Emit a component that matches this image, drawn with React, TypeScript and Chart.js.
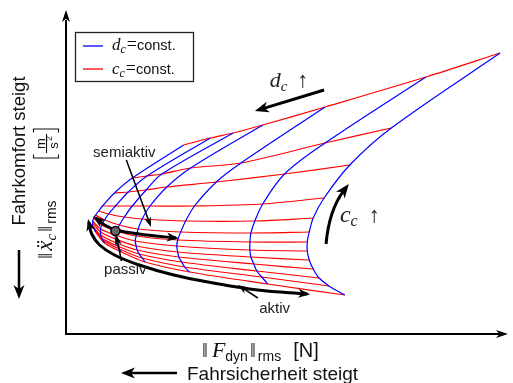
import React, { useEffect, useRef } from "react";
import { Chart, registerables } from "chart.js";

Chart.register(...registerables);

const W = 513;
const H = 383;

// Axis ranges (arbitrary units, no ticks in the original)
const xMax = 446;
const yMax = 322;

// Grid of operating points: rows = c_c levels (largest c_c on top),
// columns = d_c levels (largest d_c on the left, smallest on the right)
const gridX: number[][] = [
  [119, 146, 169, 199, 262, 364, 439],
  [67, 82, 97, 126, 177, 262, 329],
  [49, 63, 81, 102, 152, 221, 287],
  [37, 50, 67, 85, 130, 199, 261],
  [33, 43, 59, 77, 121, 191, 250],
  [30, 39, 54, 73, 116, 187, 246],
  [28, 36, 51, 71, 113, 186, 244],
  [27, 35, 50, 70, 112, 186, 244],
  [27, 35, 50, 71, 113, 187, 246],
  [27, 35, 51, 72, 114, 190, 250],
  [28, 36, 52, 74, 117, 193, 256],
  [29, 37, 54, 77, 120, 198, 266],
  [30, 39, 56, 80, 125, 204, 282],
];
const gridY: number[][] = [
  [189, 196, 201, 209, 227, 257, 281],
  [156, 158, 160, 166, 171, 191, 206],
  [141, 142, 144, 147, 152, 160, 169],
  [128, 128, 128, 128, 128, 130, 136],
  [123, 120, 117, 115, 113, 113, 116],
  [119, 114, 109, 105, 102, 101, 102],
  [116, 109, 103, 98, 94, 92, 92],
  [113, 105, 99, 93, 88, 84, 83],
  [111, 102, 95, 88, 82, 77, 74],
  [108, 99, 91, 84, 77, 70, 65],
  [106, 96, 88, 80, 72, 63, 56],
  [104, 94, 85, 76, 67, 57, 48],
  [102, 91, 82, 72, 62, 50, 39],
];

// Active suspension front ("aktiv")
const aktivX = [23, 26, 34, 49, 74, 109, 149, 194, 244];
const aktivY = [112, 100, 89, 79, 69, 59, 51, 44, 40];
// Semi-active range ("semiaktiv")
const semiX = [30, 39, 51, 74, 111];
const semiY = [116, 109, 104, 100, 96];
// Passive reference point
const passivPt = { x: 50, y: 103 };

// Annotation anchors (data units)
const semiLabel = { x: 59, y: 177 };
const semiArrow = [61, 174, 86, 107];
const passivLabel = { x: 60, y: 60 };
const passivArrow = [56, 73, 51, 99];
const aktivLabel = { x: 211, y: 21 };
const aktivArrow = [194, 36, 174, 49];
const dcLabel = { x: 206, y: 247 };
const dcArrow = [261, 244, 191, 223];
const ccLabel = { x: 277, y: 112 };
const ccArrow = [263, 90, 266, 124, 286, 150];

const RED = "#ff0000";
const BLUE = "#0000ff";
const SANS = '"Liberation Sans", Arial, Helvetica, sans-serif';
const SERIF = '"Liberation Serif", "DejaVu Serif", "Times New Roman", serif';
const fnt = (size: number, fam: string, style = "") => `${style} ${size}px ${fam}`.trim();

type Run = { t: string; f: string; dy?: number; dx?: number };

function drawRuns(ctx: CanvasRenderingContext2D, x: number, y: number, runs: Run[]) {
  let cx = x;
  for (const r of runs) {
    ctx.font = r.f;
    cx += r.dx || 0;
    ctx.fillText(r.t, cx, y + (r.dy || 0));
    cx += ctx.measureText(r.t).width;
  }
  return cx;
}

function arrowHead(ctx: CanvasRenderingContext2D, x0: number, y0: number, x1: number, y1: number, len: number, wid: number) {
  const a = Math.atan2(y1 - y0, x1 - x0);
  ctx.save();
  ctx.translate(x1, y1);
  ctx.rotate(a);
  ctx.beginPath();
  ctx.moveTo(0, 0);
  ctx.lineTo(-len, wid / 2);
  ctx.lineTo(-len * 0.72, 0);
  ctx.lineTo(-len, -wid / 2);
  ctx.closePath();
  ctx.fill();
  ctx.restore();
}

function arrowLine(ctx: CanvasRenderingContext2D, x0: number, y0: number, x1: number, y1: number, lw: number, len: number, wid: number) {
  const a = Math.atan2(y1 - y0, x1 - x0);
  const ex = x1 - Math.cos(a) * len * 0.6;
  const ey = y1 - Math.sin(a) * len * 0.6;
  ctx.lineWidth = lw;
  ctx.beginPath();
  ctx.moveTo(x0, y0);
  ctx.lineTo(ex, ey);
  ctx.stroke();
  arrowHead(ctx, x0, y0, x1, y1, len, wid);
}

const annotPlugin = {
  id: "annot",
  afterDraw(chart: any) {
    const { ctx, chartArea: ca, scales } = chart;
    const X = (v: number) => scales.x.getPixelForValue(v);
    const Y = (v: number) => scales.y.getPixelForValue(v);
    ctx.save();
    ctx.strokeStyle = "#000";
    ctx.fillStyle = "#000";
    ctx.lineCap = "butt";

    // arrowheads on the thick data lines
    const endHeads = (xs: number[], ys: number[]) => {
      const n = xs.length;
      const ext = (xa: number, ya: number, xb: number, yb: number) => {
        const px0 = X(xa), py0 = Y(ya), px1 = X(xb), py1 = Y(yb);
        const a = Math.atan2(py1 - py0, px1 - px0);
        arrowHead(ctx, px0, py0, px1 + Math.cos(a) * 3, py1 + Math.sin(a) * 3, 12, 9);
      };
      ext(xs[1], ys[1], xs[0], ys[0]);
      ext(xs[n - 2], ys[n - 2], xs[n - 1], ys[n - 1]);
    };
    endHeads(aktivX, aktivY);
    endHeads(semiX, semiY);

    // axes
    ctx.lineWidth = 2;
    ctx.beginPath();
    ctx.moveTo(ca.left, ca.bottom + 1);
    ctx.lineTo(ca.left, ca.top + 8);
    ctx.stroke();
    arrowHead(ctx, ca.left, ca.bottom, ca.left, ca.top - 2, 12, 8);
    ctx.beginPath();
    ctx.moveTo(ca.left - 1, ca.bottom);
    ctx.lineTo(ca.right - 8, ca.bottom);
    ctx.stroke();
    arrowHead(ctx, ca.left, ca.bottom, ca.right + 1, ca.bottom, 12, 8);

    // annotation arrows
    ctx.fillStyle = "#000";
    arrowLine(ctx, X(semiArrow[0]), Y(semiArrow[1]), X(semiArrow[2]), Y(semiArrow[3]), 1.5, 10, 7);
    arrowLine(ctx, X(passivArrow[0]), Y(passivArrow[1]), X(passivArrow[2]), Y(passivArrow[3]), 1.5, 10, 7);
    arrowLine(ctx, X(aktivArrow[0]), Y(aktivArrow[1]), X(aktivArrow[2]), Y(aktivArrow[3]), 1.5, 10, 7);
    arrowLine(ctx, X(dcArrow[0]), Y(dcArrow[1]), X(dcArrow[2]), Y(dcArrow[3]), 3, 14, 11);
    // curved c_c arrow
    {
      const x0 = X(ccArrow[0]), y0 = Y(ccArrow[1]);
      const cx = X(ccArrow[2]), cy = Y(ccArrow[3]);
      const x1 = X(ccArrow[4]), y1 = Y(ccArrow[5]);
      const a = Math.atan2(y1 - cy, x1 - cx);
      ctx.lineWidth = 3;
      ctx.beginPath();
      ctx.moveTo(x0, y0);
      ctx.quadraticCurveTo(cx, cy, x1 - Math.cos(a) * 8, y1 - Math.sin(a) * 8);
      ctx.stroke();
      arrowHead(ctx, cx, cy, x1, y1, 14, 11);
    }

    // annotation text
    ctx.fillStyle = "#222";
    ctx.textBaseline = "alphabetic";
    ctx.textAlign = "center";
    ctx.font = fnt(15, SANS);
    ctx.fillText("semiaktiv", X(semiLabel.x), Y(semiLabel.y));
    ctx.fillText("passiv", X(passivLabel.x), Y(passivLabel.y));
    ctx.fillText("aktiv", X(aktivLabel.x), Y(aktivLabel.y));
    ctx.textAlign = "left";
    drawRuns(ctx, X(dcLabel.x), Y(dcLabel.y), [
      { t: "d", f: fnt(22, SERIF, "italic") },
      { t: "c", f: fnt(15, SERIF, "italic"), dy: 4 },
      { t: "↑", f: fnt(22, SERIF), dx: 10 },
    ]);
    drawRuns(ctx, X(ccLabel.x), Y(ccLabel.y), [
      { t: "c", f: fnt(24, SERIF, "italic") },
      { t: "c", f: fnt(16, SERIF, "italic"), dy: 4 },
      { t: "↑", f: fnt(22, SERIF), dx: 11 },
    ]);

    // legend
    ctx.fillStyle = "#fff";
    ctx.fillRect(75, 32, 118, 49);
    ctx.strokeStyle = "#222";
    ctx.lineWidth = 1.3;
    ctx.strokeRect(75.5, 32.5, 118, 49);
    ctx.lineWidth = 1.3;
    ctx.strokeStyle = BLUE;
    ctx.beginPath();
    ctx.moveTo(83, 46);
    ctx.lineTo(103, 46);
    ctx.stroke();
    ctx.strokeStyle = RED;
    ctx.beginPath();
    ctx.moveTo(83, 69);
    ctx.lineTo(103, 69);
    ctx.stroke();
    ctx.fillStyle = "#111";
    drawRuns(ctx, 112, 50, [
      { t: "d", f: fnt(17, SERIF, "italic") },
      { t: "c", f: fnt(12, SERIF, "italic"), dy: 3 },
      { t: "=", f: fnt(18, SERIF), dx: 1 },
      { t: "const.", f: fnt(14.5, SANS) },
    ]);
    drawRuns(ctx, 112, 74, [
      { t: "c", f: fnt(17, SERIF, "italic") },
      { t: "c", f: fnt(12, SERIF, "italic"), dy: 3 },
      { t: "=", f: fnt(18, SERIF), dx: 1 },
      { t: "const.", f: fnt(14.5, SANS) },
    ]);

    // x axis titles
    ctx.fillStyle = "#111";
    ctx.strokeStyle = "#000";
    drawRuns(ctx, 202, 357, [
      { t: "‖", f: fnt(21, SERIF) },
      { t: "F", f: fnt(22, SERIF, "italic"), dx: 4 },
      { t: "dyn", f: fnt(14, SANS), dy: 4 },
      { t: "‖", f: fnt(21, SERIF), dx: 2 },
      { t: "rms", f: fnt(14, SANS), dy: 4, dx: 2 },
      { t: "[N]", f: fnt(20, SANS), dx: 12 },
    ]);
    ctx.font = fnt(19, SANS);
    ctx.fillText("Fahrsicherheit steigt", 187, 380);
    ctx.fillStyle = "#000";
    arrowLine(ctx, 177, 373, 121, 373, 2.5, 14, 11);

    // y axis titles (rotated)
    ctx.save();
    ctx.translate(25, 151);
    ctx.rotate(-Math.PI / 2);
    ctx.textAlign = "center";
    ctx.fillStyle = "#111";
    ctx.font = fnt(18.5, SANS);
    ctx.fillText("Fahrkomfort steigt", 0, 0);
    ctx.restore();
    ctx.fillStyle = "#000";
    arrowLine(ctx, 19, 250, 19, 299, 2.5, 14, 11);

    ctx.save();
    ctx.translate(52, 259);
    ctx.rotate(-Math.PI / 2);
    ctx.textAlign = "left";
    ctx.fillStyle = "#111";
    drawRuns(ctx, 0, 0, [
      { t: "‖", f: fnt(22, SERIF) },
      { t: "ẍ", f: fnt(23, SERIF, "italic"), dx: 2 },
      { t: "c", f: fnt(15, SERIF, "italic"), dy: 4 },
      { t: "‖", f: fnt(22, SERIF), dx: 2 },
      { t: "rms", f: fnt(14, SANS), dy: 4, dx: 2 },
    ]);
    const L = 101;
    ctx.strokeStyle = "#111";
    ctx.lineWidth = 1.1;
    ctx.beginPath();
    ctx.moveTo(L + 3.5, -18.5);
    ctx.lineTo(L, -18.5);
    ctx.lineTo(L, 6.5);
    ctx.lineTo(L + 3.5, 6.5);
    ctx.moveTo(L + 25.5, -18.5);
    ctx.lineTo(L + 29, -18.5);
    ctx.lineTo(L + 29, 6.5);
    ctx.lineTo(L + 25.5, 6.5);
    ctx.moveTo(L + 5, -5.5);
    ctx.lineTo(L + 24, -5.5);
    ctx.stroke();
    ctx.textAlign = "center";
    ctx.font = fnt(13, SANS);
    ctx.fillText("m", L + 14.5, -7.5);
    ctx.fillText("s", L + 12.5, 6);
    ctx.font = fnt(9, SANS);
    ctx.fillText("2", L + 19.5, 0);
    ctx.restore();

    ctx.restore();
  },
};

function buildDatasets() {
  const ds: any[] = [];
  const rows = gridX.length;
  const cols = gridX[0].length;
  for (let j = 0; j < rows; j++) {
    const data = [];
    for (let i = 0; i < cols; i++) data.push({ x: gridX[j][i], y: gridY[j][i] });
    ds.push({
      label: "c_c=const.",
      data,
      showLine: true,
      borderColor: RED,
      borderWidth: 1.2,
      pointRadius: 0,
      tension: 0.3,
      fill: false,
      order: 6,
    });
  }
  for (let i = 0; i < cols; i++) {
    const data = [];
    for (let j = 0; j < rows; j++) data.push({ x: gridX[j][i], y: gridY[j][i] });
    ds.push({
      label: "d_c=const.",
      data,
      showLine: true,
      borderColor: BLUE,
      borderWidth: 1.2,
      pointRadius: 0,
      tension: 0.35,
      fill: false,
      order: 5,
    });
  }
  ds.push({
    label: "aktiv",
    data: aktivX.map((x, k) => ({ x, y: aktivY[k] })),
    showLine: true,
    borderColor: "#000",
    borderWidth: 3,
    pointRadius: 0,
    tension: 0.4,
    fill: false,
    order: 3,
  });
  ds.push({
    label: "semiaktiv",
    data: semiX.map((x, k) => ({ x, y: semiY[k] })),
    showLine: true,
    borderColor: "#000",
    borderWidth: 3,
    pointRadius: 0,
    tension: 0.4,
    fill: false,
    order: 2,
  });
  ds.push({
    label: "passiv",
    data: [passivPt],
    showLine: false,
    pointRadius: 4.5,
    pointBackgroundColor: "#666",
    pointBorderColor: "#000",
    pointBorderWidth: 1.5,
    order: 1,
  });
  return ds;
}

export default function App() {
  const ref = useRef<HTMLCanvasElement>(null);
  useEffect(() => {
    const canvas = ref.current;
    if (!canvas) return;
    const chart = new Chart(canvas, {
      type: "scatter",
      data: { datasets: buildDatasets() },
      options: {
        responsive: false,
        animation: false,
        devicePixelRatio: 1,
        layout: { padding: { left: 66, top: 12, right: 1, bottom: 49 } },
        plugins: { legend: { display: false }, tooltip: { enabled: false } },
        scales: {
          x: { type: "linear", min: 0, max: xMax, display: false },
          y: { type: "linear", min: 0, max: yMax, display: false },
        },
      },
      plugins: [annotPlugin],
    } as any);
    return () => chart.destroy();
  }, []);
  return (
    <div style={{ position: "fixed", left: 0, top: 0, width: W, height: H, background: "#fff" }}>
      <canvas ref={ref} width={W} height={H} style={{ width: W, height: H, display: "block" }} />
    </div>
  );
}
